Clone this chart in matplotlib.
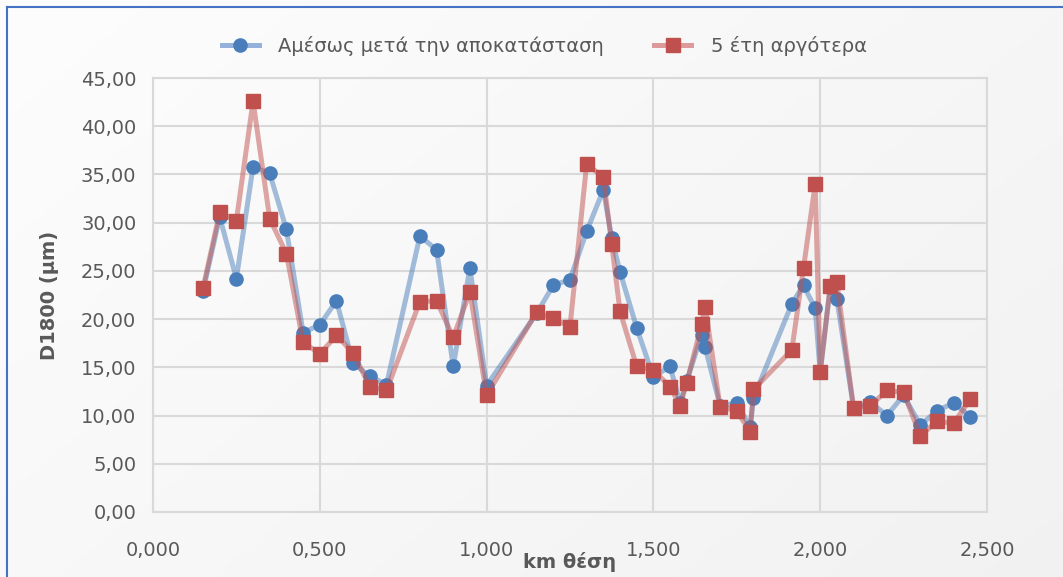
import numpy as np
import matplotlib
matplotlib.use("Agg")
import matplotlib.pyplot as plt
from matplotlib.lines import Line2D
from matplotlib.ticker import FuncFormatter, MultipleLocator

# km positions (shared by both series)
km = [0.15, 0.20, 0.25, 0.30, 0.35, 0.40, 0.45, 0.50, 0.55, 0.60, 0.65, 0.70,
      0.80, 0.85, 0.90, 0.95, 1.00, 1.15, 1.20, 1.25, 1.30, 1.35, 1.375, 1.40,
      1.45, 1.50, 1.55, 1.58, 1.60, 1.645, 1.655, 1.70, 1.75, 1.79, 1.80,
      1.915, 1.95, 1.985, 2.00, 2.03, 2.05, 2.10, 2.15, 2.20, 2.25, 2.30,
      2.35, 2.40, 2.45]

amesws = [22.9, 30.6, 24.2, 35.8, 35.1, 29.3, 18.6, 19.4, 21.9, 15.4, 14.1, 13.2,
          28.6, 27.2, 15.1, 25.3, 13.1, 20.6, 23.5, 24.1, 29.1, 33.4, 28.4, 24.9,
          19.1, 14.0, 15.1, 11.3, 13.6, 18.4, 17.1, 11.0, 11.3, 8.8, 11.8,
          21.6, 23.5, 21.1, 14.5, 23.3, 22.1, 10.8, 11.4, 10.0, 12.1, 9.0,
          10.5, 11.3, 9.9]

pente_eti = [23.2, 31.1, 30.2, 42.6, 30.4, 26.8, 17.6, 16.4, 18.3, 16.5, 13.0, 12.6,
             21.8, 21.9, 18.1, 22.8, 12.1, 20.7, 20.1, 19.2, 36.1, 34.7, 27.8, 20.8,
             15.1, 14.7, 13.0, 11.0, 13.4, 19.5, 21.3, 10.9, 10.5, 8.3, 12.7,
             16.8, 25.3, 34.0, 14.5, 23.4, 23.8, 10.8, 11.0, 12.6, 12.4, 7.9,
             9.4, 9.2, 11.7]

label1 = "Αμέσως μετά την αποκατάσταση"
label2 = "5 έτη αργότερα"

plt.rcParams['font.family'] = ['DejaVu Sans']
txt = '#595959'

fig = plt.figure(figsize=(10.63, 5.77), dpi=100)

# soft gradient background like the Excel chart area
bg = fig.add_axes([0, 0, 1, 1], zorder=-10)
gx, gy = np.meshgrid(np.linspace(0, 1, 200), np.linspace(0, 1, 200))
grad = 0.992 - 0.045 * (0.6 * gx + 0.4 * gy)
bg.imshow(np.dstack([grad, grad, grad]), extent=[0, 1, 0, 1], aspect='auto')
bg.axis('off')

ax = fig.add_axes([0.1439, 0.1127, 0.7846, 0.7521])
ax.set_facecolor('none')

ax.plot(km, amesws, color='#4a7ebb', alpha=0.5, linewidth=3.6, zorder=3)
ax.plot(km, amesws, linestyle='none', marker='o', markersize=9.5,
        color='#4a7ebb', zorder=4)
ax.plot(km, pente_eti, color='#c0504d', alpha=0.5, linewidth=3.6, zorder=5)
ax.plot(km, pente_eti, linestyle='none', marker='s', markersize=9.5,
        color='#c0504d', zorder=6)

ax.set_xlim(0, 2.5)
ax.set_ylim(0, 45)
ax.xaxis.set_major_locator(MultipleLocator(0.5))
ax.yaxis.set_major_locator(MultipleLocator(5))
ax.xaxis.set_major_formatter(FuncFormatter(lambda v, p: f"{v:.3f}".replace('.', ',')))
ax.yaxis.set_major_formatter(FuncFormatter(lambda v, p: f"{v:.2f}".replace('.', ',')))
ax.grid(True, color='#d9d9d9', linewidth=1.5, zorder=0)
ax.set_axisbelow(True)
for s in ax.spines.values():
    s.set_color('#d9d9d9')
    s.set_linewidth(1.5)
ax.tick_params(length=0, labelsize=14, labelcolor=txt)
ax.tick_params(axis='x', pad=21)
ax.tick_params(axis='y', pad=12)

ax.set_xlabel("km θέση", fontsize=14, fontweight='bold', color=txt, labelpad=-6)
ax.set_ylabel("D1800 (μm)", fontsize=14, fontweight='bold', color=txt, labelpad=16)

h1 = Line2D([], [], color='#93b1da', linewidth=3.6, marker='o', markersize=9.5,
            markerfacecolor='#4a7ebb', markeredgecolor='#4a7ebb')
h2 = Line2D([], [], color='#dc9b9a', linewidth=3.6, marker='s', markersize=9.5,
            markerfacecolor='#c0504d', markeredgecolor='#c0504d')
leg = fig.legend([h1, h2], [label1, label2], loc='center', ncol=2,
                 bbox_to_anchor=(0.512, 0.921), frameon=False, fontsize=14,
                 handlelength=1.9, handletextpad=1.0, columnspacing=2.6)
for t in leg.get_texts():
    t.set_color(txt)

# blue chart border (left and top edges visible)
fig.add_artist(Line2D([7 / 1063, 7 / 1063], [0, 1 - 7 / 577], color='#4472c4',
                      linewidth=1.5, transform=fig.transFigure))
fig.add_artist(Line2D([7 / 1063, 1], [1 - 7 / 577, 1 - 7 / 577], color='#4472c4',
                      linewidth=1.5, transform=fig.transFigure))

fig.savefig("out.png", dpi=100)
